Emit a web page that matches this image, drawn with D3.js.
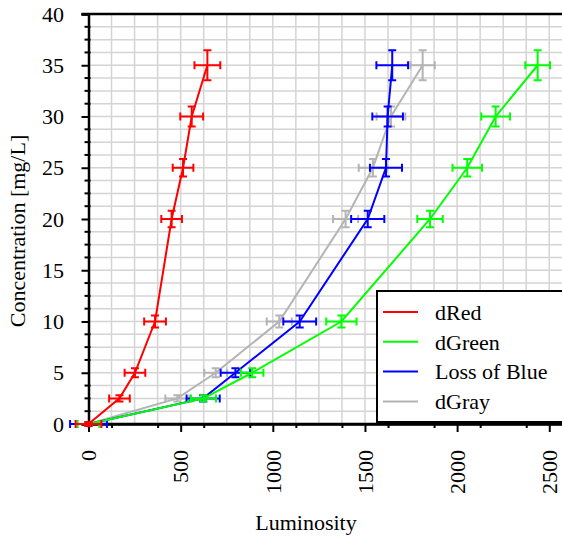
<!DOCTYPE html>
<html>
<head>
<meta charset="utf-8">
<script src="https://cdn.jsdelivr.net/npm/d3@7"></script>
</head>
<body style="margin:0">
<div id="app"></div>
<script>
const concentration = [0, 2.5, 5, 10, 20, 25, 30, 35];
const concErr = [0.2, 0.3, 0.44, 0.58, 0.8, 0.85, 0.98, 1.46];

const dRed = [0, 168, 252, 361, 451, 513, 560, 645];
const dRedErr = [70, 56, 56, 59, 56, 56, 62, 70];
const dGreen = [0, 624, 888, 1372, 1853, 2055, 2209, 2437];
const dGreenErr = [60, 68, 61, 82, 69, 80, 78, 67];
const lossBlue = [0, 622, 797, 1146, 1515, 1614, 1623, 1648];
const lossBlueErr = [100, 90, 80, 89, 90, 87, 83, 86];
const dGray = [0, 482, 690, 1035, 1395, 1543, 1641, 1813];
const dGrayErr = [60, 65, 62, 68, 68, 77, 78, 66];

const seriesNames = ['dRed', 'dGreen', 'Loss of Blue', 'dGray'];
const seriesColors = ['#ff0000', '#00ff00', '#0000ff', '#b4b4b4'];
const xTicks = [0, 500, 1000, 1500, 2000, 2500];
const yTicks = [0, 5, 10, 15, 20, 25, 30, 35, 40];

const series = [
  { name: seriesNames[0], color: seriesColors[0], x: dRed, xe: dRedErr },
  { name: seriesNames[1], color: seriesColors[1], x: dGreen, xe: dGreenErr },
  { name: seriesNames[2], color: seriesColors[2], x: lossBlue, xe: lossBlueErr },
  { name: seriesNames[3], color: seriesColors[3], x: dGray, xe: dGrayErr }
].map(s => ({ ...s, pts: s.x.map((v, i) => ({ x: v, xe: s.xe[i], y: concentration[i], ye: concErr[i] })) }));

const width = 562;
const height = 541;
const svg = d3.select('#app').append('svg')
  .attr('width', width)
  .attr('height', height);

const x = d3.scaleLinear().domain([0, 2600]).range([88.5, 567.7]);
const y = d3.scaleLinear().domain([0, 40]).range([424, 14]);

// grid
const grid = svg.append('g').attr('stroke', '#d4d4d4').attr('stroke-width', 1.5);
grid.selectAll('.gx')
  .data(d3.range(125, 2600, 125))
  .enter().append('line')
  .attr('x1', d => x(d)).attr('x2', d => x(d))
  .attr('y1', y(0)).attr('y2', y(40));
grid.selectAll('.gy')
  .data(d3.range(1.25, 40, 1.25))
  .enter().append('line')
  .attr('x1', x(0)).attr('x2', x(2600))
  .attr('y1', d => y(d)).attr('y2', d => y(d));

// frame top
svg.append('line')
  .attr('x1', x(0) - 7).attr('x2', width + 10)
  .attr('y1', y(40)).attr('y2', y(40))
  .attr('stroke', '#000').attr('stroke-width', 2.5);

// axes, labels added separately below
const xAxis = svg.append('g')
  .attr('transform', `translate(0,${y(0)})`)
  .call(d3.axisBottom(x).tickValues(xTicks).tickSize(8).tickFormat(''));
xAxis.append('g').call(d3.axisBottom(x).tickValues(d3.range(125, 2600, 250)).tickSize(4).tickFormat(''));
const yAxis = svg.append('g')
  .attr('transform', `translate(${x(0)},0)`)
  .call(d3.axisLeft(y).tickValues(yTicks).tickSize(7).tickFormat(''));
// minor y ticks cross the axis a little
yAxis.selectAll('.minor')
  .data(d3.range(1.25, 40, 1.25).filter(v => v % 5 !== 0))
  .enter().append('line')
  .attr('x1', -4).attr('x2', 2)
  .attr('y1', d => y(d)).attr('y2', d => y(d))
  .attr('stroke', '#000').attr('stroke-width', 2);
svg.selectAll('.domain').attr('stroke-width', 2.5);
svg.selectAll('.tick line').attr('stroke-width', 2);
xAxis.select('.domain').attr('d', `M${x(0)},0H${width + 10}`);

const txt = svg.append('g')
  .attr('font-family', 'Liberation Serif')
  .attr('font-size', 22)
  .attr('fill', '#000');

// tick labels
txt.selectAll('.ylab')
  .data(yTicks).enter().append('text')
  .attr('x', 64).attr('y', d => y(d)).attr('dy', '0.35em')
  .attr('text-anchor', 'end')
  .text(d => d);
txt.selectAll('.xlab')
  .data(xTicks).enter().append('text')
  .attr('transform', d => `translate(${x(d)},450) rotate(-90)`)
  .attr('dy', '0.35em')
  .attr('text-anchor', 'end')
  .text(d => d);

// axis titles
txt.append('text')
  .attr('x', 306).attr('y', 530)
  .attr('text-anchor', 'middle')
  .text('Luminosity');
txt.append('text')
  .attr('transform', 'translate(25,231) rotate(-90)')
  .attr('text-anchor', 'middle')
  .text('Concentration [mg/L]');

// series, gray first so red ends on top
const line = d3.line().x(d => x(d.x)).y(d => y(d.y));
const cap = 4;
series.slice().reverse().forEach(s => {
  const g = svg.append('g').attr('stroke', s.color).attr('fill', 'none').attr('stroke-width', 2);
  g.append('path').datum(s.pts).attr('d', line);
  g.selectAll('.eb').data(s.pts).enter().append('path')
    .attr('d', d => {
      const cx = x(d.x), cy = y(d.y);
      const x0 = x(d.x - d.xe), x1 = x(d.x + d.xe);
      const y0 = y(d.y - d.ye), y1 = y(d.y + d.ye);
      return `M${x0},${cy}H${x1}M${x0},${cy - cap}V${cy + cap}M${x1},${cy - cap}V${cy + cap}` +
        `M${cx},${y0}V${y1}M${cx - cap},${y0}H${cx + cap}M${cx - cap},${y1}H${cx + cap}`;
    });
});

// legend
const lg = svg.append('g').attr('transform', 'translate(377,291)');
lg.append('rect').attr('width', 200).attr('height', 131)
  .attr('fill', '#fff').attr('stroke', '#000').attr('stroke-width', 2);
const item = lg.selectAll('.item').data(series).enter().append('g')
  .attr('transform', (d, i) => `translate(0,${21 + i * 29.8})`);
item.append('line').attr('x1', 6).attr('x2', 41)
  .attr('stroke', d => d.color).attr('stroke-width', 2);
item.append('text').attr('x', 58).attr('dy', '0.35em')
  .attr('font-family', 'Liberation Serif').attr('font-size', 22)
  .text(d => d.name);
</script>
</body>
</html>
